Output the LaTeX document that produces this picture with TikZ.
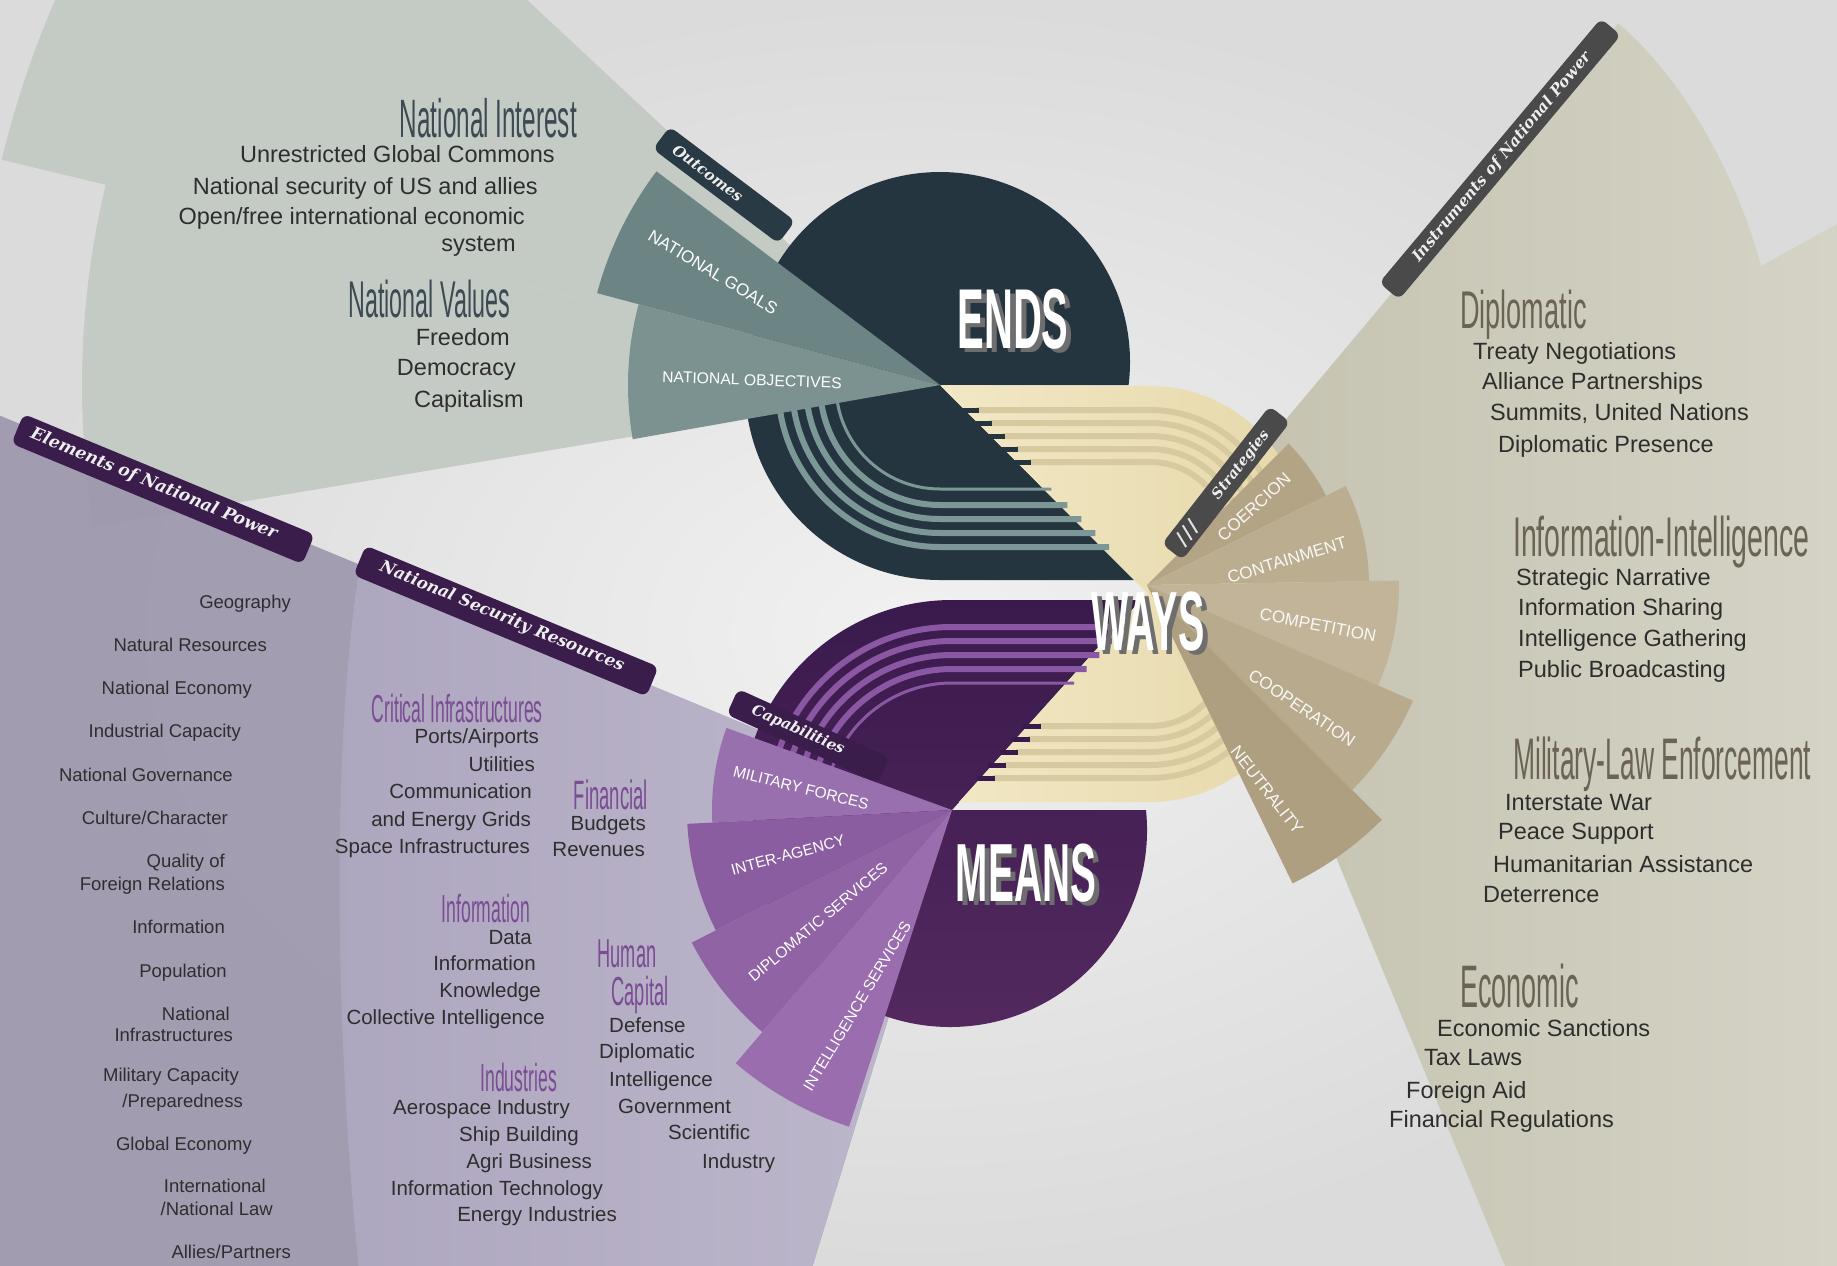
\documentclass[tikz,border=0pt]{standalone}
\usepackage{graphicx}
\usepackage{fontspec}
\setmainfont{Liberation Sans}
\newfontfamily\bannerfont{DejaVu Serif}
\newfontfamily\condA[FakeStretch=0.45]{Liberation Sans}
\newfontfamily\condB[FakeStretch=0.51]{Liberation Sans}
\newfontfamily\condW[FakeStretch=0.47]{Liberation Sans}
\usetikzlibrary{calc}

\definecolor{bgin}{HTML}{F1F1F1}
\definecolor{bgout}{HTML}{DBDBDB}
\definecolor{sage}{HTML}{C4CBC5}
\definecolor{instrL}{HTML}{C3C0AC}
\definecolor{instrR}{HTML}{D4D3C6}
\definecolor{elem}{HTML}{9A94AB}
\definecolor{nsrL}{HTML}{ADA6BF}
\definecolor{nsrR}{HTML}{BEB8CC}
\definecolor{endsc}{HTML}{243540}
\definecolor{endsstripe}{HTML}{7D9797}
\definecolor{meansT}{HTML}{3A1A4D}
\definecolor{meansB}{HTML}{53295F}
\definecolor{meansstripe}{HTML}{8A58A2}
\definecolor{beigeL}{HTML}{F2E8C5}
\definecolor{beigeR}{HTML}{E6D8AA}
\definecolor{beigestripe}{HTML}{D8CAA0}
\definecolor{goalc}{HTML}{6C8584}
\definecolor{objc}{HTML}{7B9291}
\definecolor{mfc}{HTML}{9870AD}
\definecolor{iac}{HTML}{8A5CA0}
\definecolor{dsc}{HTML}{9063A5}
\definecolor{isc}{HTML}{9A6DAE}
\definecolor{stA}{HTML}{B3A486}
\definecolor{stB}{HTML}{BBAD90}
\definecolor{stC}{HTML}{C1B498}
\definecolor{stD}{HTML}{B8AA8C}
\definecolor{stE}{HTML}{AE9F81}
\definecolor{bnpurple}{HTML}{3A1D4B}
\definecolor{bnslate}{HTML}{2A3A44}
\definecolor{bngray}{HTML}{4A4A4A}
\definecolor{bntext}{HTML}{EEEEEE}
\definecolor{hdsage}{HTML}{3C4A54}
\definecolor{hdnsr}{HTML}{7A4C93}
\definecolor{hdins}{HTML}{6B6455}
\definecolor{bodyc}{HTML}{2E2E2E}
\definecolor{shadowc}{HTML}{6E6E6E}

\newcommand\bigw[1]{\rlap{\hspace{5pt}\raisebox{-4pt}{\color{shadowc}#1}}#1}
\newcommand\hA[1]{\condA\fontsize{#1}{#1}\selectfont}
\newcommand\hB[1]{\condB\fontsize{#1}{#1}\selectfont}

\tikzset{
  txt/.style={inner sep=0pt, text=bodyc},
  sagetxt/.style={txt, font=\fontsize{23.5}{28}\selectfont, anchor=mid east},
  elemtxt/.style={txt, font=\fontsize{18.5}{22}\selectfont, anchor=mid east},
  nsrtxt/.style={txt, font=\fontsize{20.5}{24}\selectfont, anchor=mid east},
  nsrtxtw/.style={txt, font=\fontsize{20.5}{24}\selectfont, anchor=mid west},
  instxt/.style={txt, font=\fontsize{23.5}{28}\selectfont, anchor=mid west},
  hdsagest/.style={inner sep=0pt, text=hdsage, anchor=base east},
  hdnsrst/.style={inner sep=0pt, text=hdnsr},
  hdinsst/.style={inner sep=0pt, text=hdins, anchor=base west},
  wlabel/.style={inner sep=0pt, text=white, font=\fontsize{15.5}{18}\selectfont},
  slabel/.style={inner sep=0pt, text=white!92!stA, font=\fontsize{17}{20}\selectfont},
  bannerbox/.style={rounded corners=7pt, inner sep=0pt},
  bannertxt/.style={inner sep=0pt, text=bntext, font=\bannerfont\bfseries\itshape},
  bigword/.style={inner sep=0pt, text=white, anchor=base},
}

\begin{document}
\begin{tikzpicture}[x=1pt,y=-1pt]
\useasboundingbox (0,0) rectangle (1837,1266);
\shade[inner color=bgin, outer color=bgout] (0,0) rectangle (1837,1266);

\coordinate (E) at (940,385);
\coordinate (W) at (1147,593);
\coordinate (Wf) at (1147,585);
\coordinate (M) at (952,810);

\begin{scope}
\clip (0,0) rectangle (1837,1266);

% ---- large background sectors ----
\fill[sage] (E) -- ++(193.5:965) arc[start angle=193.5, end angle=223, radius=965] -- cycle;
\fill[sage] (E) -- ++(170.5:858) arc[start angle=170.5, end angle=193.5, radius=858] -- cycle;

\shade[left color=instrL, right color=instrR] (Wf) -- ++(310:733) .. controls (1680,75) and (1735,170) .. (1761,266) -- (1837,224) -- (1837,1266) -- (1505,1266) -- (1300,770) -- cycle;

\fill[elem, fill opacity=0.88] (M) -- ++(202.5:1100) -- (-100,1400) -- ($(M)+(107:650)$) -- cycle;
\shade[left color=nsrL, right color=nsrR] (M) -- (360,565) .. controls (330,750) and (335,1050) .. (362,1300) -- ($(M)+(107:520)$) -- cycle;

% ---- ENDS / MEANS / WAYS core ----
\fill[endsc] (E) -- (1128.6,385) arc[start angle=6.95, end angle=-186.95, radius=190] -- (745,385) arc[start angle=180, end angle=90, radius=195] -- (1134,580) -- cycle;

\shade[top color=meansT, bottom color=meansB] (M) -- (1146,810) arc[start angle=-5.83, end angle=185.83, radius=197] -- (742,810) arc[start angle=180, end angle=270, radius=210] -- (1140.7,600) -- cycle;

\shade[left color=beigeL, right color=beigeR] (E) -- (1150,386) arc[start angle=270, end angle=360, radius=154] -- (1304,648) arc[start angle=0, end angle=90, radius=154] -- (959,802) -- (W) -- cycle;

% stripes
\foreach \r/\w in {162/6,148/6,134/6,120/6,104/3} {
  \draw[endsstripe, line width=\w pt] ($(E)+(-\r,0)$) arc[start angle=180, end angle=90, radius=\r] -- ++({\r*0.995+8},0);
}
\foreach \r/\w in {183/6,169/6,155/6,141/6,127/3} {
  \draw[meansstripe, line width=\w pt] ($(M)+(-\r,0)$) arc[start angle=180, end angle=270, radius=\r] -- ++({\r*0.8986+8},0);
}
\foreach \r in {130,117,104,91,78} {
  \draw[beigestripe, line width=6pt] ({940+(155-\r)*0.995+12}, {540-\r}) -- (1150,{540-\r}) arc[start angle=270, end angle=360, radius=\r];
  \draw[beigestripe, line width=6pt] ({1147-(55+\r)*0.8986+12}, {648+\r}) -- (1150,{648+\r}) arc[start angle=90, end angle=0, radius=\r];
  \fill[endsc] ({940+(155-\r)*0.995-4}, {540-\r-2.5}) rectangle ++(18,5);
  \fill[meansT] ({1147-(55+\r)*0.8986-4}, {648+\r-2.5}) rectangle ++(18,5);
}

% ---- ENDS wedges ----
\fill[goalc] (E) -- ++(195:355) arc[start angle=195, end angle=217, radius=355] -- cycle;
\fill[objc] (E) -- ++(170:312) arc[start angle=170, end angle=195, radius=312] -- cycle;

% ---- MEANS wedges ----
\fill[mfc] (M) -- ++(177:240) arc[start angle=177, end angle=200, radius=240] -- cycle;
\fill[iac] (M) -- ++(153:265) arc[start angle=153, end angle=177, radius=265] -- cycle;
\fill[dsc] (M) -- ++(130.5:292) arc[start angle=130.5, end angle=153, radius=292] -- cycle;
\fill[isc] (M) -- ++(108:333) arc[start angle=108, end angle=130.5, radius=333] -- cycle;

% ---- WAYS wedges ----
\fill[stA] (Wf) -- ++(315:200) arc[start angle=315, end angle=333.5, radius=200] -- cycle;
\fill[stB] (Wf) -- ++(333.5:222) arc[start angle=333.5, end angle=359, radius=222] -- cycle;
\fill[stC] (Wf) -- ++(-1:252) arc[start angle=-1, end angle=23.5, radius=252] -- cycle;
\fill[stD] (Wf) -- ++(23.5:290) arc[start angle=23.5, end angle=45, radius=290] -- cycle;
\fill[stE] (Wf) -- ++(45:332) arc[start angle=45, end angle=64, radius=332] -- cycle;
\end{scope}

% ---- banners ----
\node[bannerbox, fill=bnslate, minimum width=157pt, minimum height=28pt, rotate=-37] (bOut) at (724,185) {};
\node[bannertxt, rotate=-37, font=\bannerfont\bfseries\itshape\fontsize{15}{16}\selectfont] (tOut) at (708,173) {Outcomes};

\node[bannerbox, fill=bngray, minimum width=175pt, minimum height=26pt, rotate=52] (bStr) at (1226,483) {};
\node[bannertxt, rotate=52, font=\bannerfont\bfseries\itshape\fontsize{14.5}{16}\selectfont] (tStr) at (1241,465) {Strategies};
\begin{scope}[shift={(1226,483)}, rotate=52]
  \foreach \u in {-72,-63,-54} {\draw[white!75!gray, line width=2pt] (\u-3,8) -- (\u+3,-8);}
\end{scope}

\node[bannerbox, fill=bngray, minimum width=345pt, minimum height=26pt, rotate=50] (bIns) at (1500,159) {};
\node[bannertxt, rotate=50, font=\bannerfont\bfseries\itshape\fontsize{15.5}{17}\selectfont] (tIns) at (1502,157) {Instruments of National Power};

\node[bannerbox, fill=bnpurple, minimum width=315pt, minimum height=32pt, rotate=-22.5] (bEl) at (163,489) {};
\node[bannertxt, rotate=-22.5, font=\bannerfont\bfseries\itshape\fontsize{17}{19}\selectfont] (tEl) at (154,484) {Elements of National Power};

\node[bannerbox, fill=bnpurple, minimum width=317pt, minimum height=32pt, rotate=-22.5] (bNS) at (506,621) {};
\node[bannertxt, rotate=-22.5, font=\bannerfont\bfseries\itshape\fontsize{16.5}{19}\selectfont] (tNS) at (502,617) {National Security Resources};

\node[bannerbox, fill=bnpurple, minimum width=166pt, minimum height=28pt, rotate=-24.4] (bCa) at (808,736) {};
\node[bannertxt, rotate=-24.4, font=\bannerfont\bfseries\itshape\fontsize{15}{16}\selectfont] (tCa) at (798,730) {Capabilities};

% ---- big words (with offset grey shadow) ----
\node[bigword, font=\condW\bfseries\fontsize{85}{85}\selectfont] (ends) at (1013,348) {\bigw{ENDS}};
\node[bigword, font=\condW\bfseries\fontsize{84}{84}\selectfont] (ways) at (1148,650) {\bigw{WAYS}};
\node[bigword, font=\condW\bfseries\fontsize{82.5}{83}\selectfont] (means) at (1026,901) {\bigw{MEANS}};

% ---- wedge labels ----
\node[wlabel, font=\fontsize{17}{20}\selectfont, rotate=-31] (lG) at (713,272) {NATIONAL GOALS};
\node[wlabel, font=\fontsize{15.7}{19}\selectfont, rotate=-2] (lO) at (752,380) {NATIONAL OBJECTIVES};
\node[wlabel, rotate=-14] (lMF) at (801,788) {MILITARY FORCES};
\node[wlabel, rotate=15] (lIA) at (788,855) {INTER-AGENCY};
\node[wlabel, rotate=40] (lDS) at (818,922) {DIPLOMATIC SERVICES};
\node[wlabel, rotate=59] (lIS) at (857,1006) {INTELLIGENCE SERVICES};
\node[slabel, rotate=42] (lCoe) at (1254,507) {COERCION};
\node[slabel, rotate=17] (lCon) at (1287,560) {CONTAINMENT};
\node[slabel, rotate=-11] (lCom) at (1318,625) {COMPETITION};
\node[slabel, rotate=-34] (lCoo) at (1302,708) {COOPERATION};
\node[slabel, rotate=-52] (lNeu) at (1267,790) {NEUTRALITY};

% ---- National interest block ----
\node[hdsagest, font=\hA{54}] (hNI) at (577,137) {National Interest};
\node[sagetxt] (s1) at (555,160) {Unrestricted Global Commons};
\node[sagetxt] (s2) at (538,192) {National security of US and allies};
\node[sagetxt] (s3) at (525,222) {Open/free international economic};
\node[sagetxt] (s4) at (516,249) {system};
\node[hdsagest, font=\hA{51.7}] (hNV) at (510,317) {National Values};
\node[sagetxt] (s5) at (510,343) {Freedom};
\node[sagetxt] (s6) at (516,373) {Democracy};
\node[sagetxt] (s7) at (524,405) {Capitalism};

% ---- Elements column ----
\node[elemtxt] (e1) at (291,606) {Geography};
\node[elemtxt] (e2) at (267,649) {Natural Resources};
\node[elemtxt] (e3) at (252,692) {National Economy};
\node[elemtxt] (e4) at (241,735) {Industrial Capacity};
\node[elemtxt] (e5) at (233,779) {National Governance};
\node[elemtxt] (e6) at (228,822) {Culture/Character};
\node[elemtxt] (e7) at (225,865) {Quality of};
\node[elemtxt] (e8) at (225,888) {Foreign Relations};
\node[elemtxt] (e9) at (225,931) {Information};
\node[elemtxt] (e10) at (227,975) {Population};
\node[elemtxt] (e11) at (230,1018) {National};
\node[elemtxt] (e12) at (233,1039) {Infrastructures};
\node[elemtxt] (e13) at (239,1079) {Military Capacity};
\node[elemtxt] (e14) at (243,1105) {/Preparedness};
\node[elemtxt] (e15) at (252,1148) {Global Economy};
\node[elemtxt] (e16) at (266,1190) {International};
\node[elemtxt] (e17) at (273,1213) {/National Law};
\node[elemtxt] (e18) at (291,1256) {Allies/Partners};

% ---- National Security Resources ----
\node[hdnsrst, anchor=base east, font=\hA{39.1}] (hCI) at (543,722) {Critical Infrastructures};
\node[nsrtxt] (n1) at (539,741) {Ports/Airports};
\node[nsrtxt] (n2) at (535,769) {Utilities};
\node[nsrtxt] (n3) at (532,796) {Communication};
\node[nsrtxt] (n4) at (531,824) {and Energy Grids};
\node[nsrtxt] (n5) at (530,851) {Space Infrastructures};
\node[hdnsrst, anchor=base east, font=\hA{41}] (hFi) at (648,809) {Financial};
\node[nsrtxt] (n6) at (646,828) {Budgets};
\node[nsrtxt] (n7) at (645,854) {Revenues};
\node[hdnsrst, anchor=base east, font=\hA{39.1}] (hIn) at (530,922) {Information};
\node[nsrtxt] (n8) at (532,942) {Data};
\node[nsrtxt] (n9) at (536,968) {Information};
\node[nsrtxt] (n10) at (541,995) {Knowledge};
\node[nsrtxt] (n11) at (545,1022) {Collective Intelligence};
\node[hdnsrst, anchor=base, font=\hA{40.5}] (hHu) at (627,967) {Human};
\node[hdnsrst, anchor=base, font=\hA{40.5}] (hCa) at (640,1005) {Capital};
\node[nsrtxtw] (n12) at (609,1030) {Defense};
\node[nsrtxtw] (n13) at (599,1056) {Diplomatic};
\node[nsrtxtw] (n14) at (609,1084) {Intelligence};
\node[nsrtxtw] (n15) at (618,1111) {Government};
\node[nsrtxtw] (n16) at (668,1137) {Scientific};
\node[nsrtxtw] (n17) at (702,1166) {Industry};
\node[hdnsrst, anchor=base east, font=\hA{39.1}] (hId) at (557,1091) {Industries};
\node[nsrtxt] (n18) at (570,1112) {Aerospace Industry};
\node[nsrtxt] (n19) at (579,1139) {Ship Building};
\node[nsrtxt] (n20) at (592,1166) {Agri Business};
\node[nsrtxt] (n21) at (603,1193) {Information Technology};
\node[nsrtxt] (n22) at (617,1219) {Energy Industries};

% ---- Instruments ----
\node[hdinsst, font=\hB{53.1}] (hDi) at (1460,328) {Diplomatic};
\node[instxt] (i1) at (1473,357) {Treaty Negotiations};
\node[instxt] (i2) at (1482,387) {Alliance Partnerships};
\node[instxt] (i3) at (1490,418) {Summits, United Nations};
\node[instxt] (i4) at (1498,450) {Diplomatic Presence};
\node[hdinsst, font=\hB{55.9}] (hII) at (1513,556) {Information-Intelligence};
\node[instxt] (i5) at (1516,583) {Strategic Narrative};
\node[instxt] (i6) at (1518,613) {Information Sharing};
\node[instxt] (i7) at (1518,644) {Intelligence Gathering};
\node[instxt] (i8) at (1518,675) {Public Broadcasting};
\node[hdinsst, font=\hA{58.7}] (hML) at (1513,779) {Military-Law Enforcement};
\node[instxt] (i9) at (1505,808) {Interstate War};
\node[instxt] (i10) at (1498,837) {Peace Support};
\node[instxt] (i11) at (1493,870) {Humanitarian Assistance};
\node[instxt] (i12) at (1483,900) {Deterrence};
\node[hdinsst, font=\hA{60}] (hEc) at (1460,1007) {Economic};
\node[instxt] (i13) at (1437,1034) {Economic Sanctions};
\node[instxt] (i14) at (1424,1063) {Tax Laws};
\node[instxt] (i15) at (1406,1096) {Foreign Aid};
\node[instxt] (i16) at (1389,1125) {Financial Regulations};
\end{tikzpicture}
\end{document}
